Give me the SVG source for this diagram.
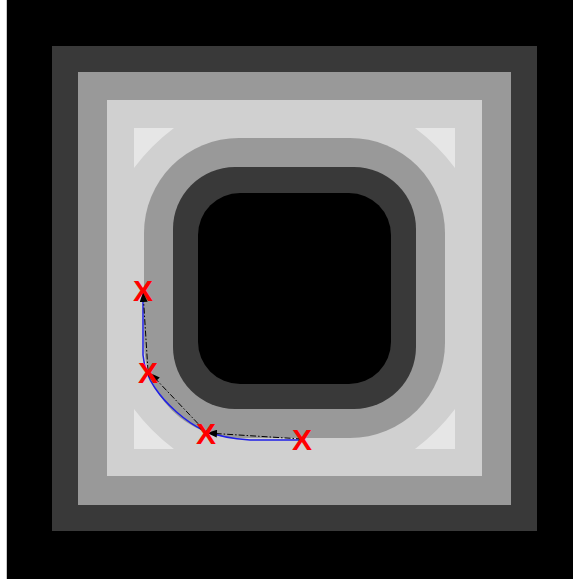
<svg xmlns="http://www.w3.org/2000/svg" width="573" height="579" viewBox="0 0 573 579">
  <style>
    .tri { fill: #e6e6e6; }
    .mark { font-family: "Liberation Sans", Arial, sans-serif; font-weight: bold; font-size: 30px; fill: #ff0000; text-anchor: middle; }
    .step { fill: none; stroke: #000; stroke-width: 1; stroke-dasharray: 6,2,1.5,2; marker-end: url(#arr); }
  </style>
  <defs>
    <marker id="arr" viewBox="0 0 10 8" refX="10" refY="4" markerWidth="10" markerHeight="8" markerUnits="userSpaceOnUse" orient="auto">
      <path d="M0,0 L10,4 L0,8 Z" fill="#000"/>
    </marker>
  </defs>
  <g id="background">
    <rect x="0" y="0" width="573" height="579" fill="#ffffff"/>
    <rect x="6" y="0" width="1" height="579" fill="#c8c8c8"/>
    <rect x="7" y="0" width="566" height="579" fill="#000000"/>
    <rect x="52" y="46" width="485" height="485" fill="#393939"/>
    <rect x="78" y="72" width="433" height="433" fill="#999999"/>
    <rect x="107" y="100" width="375" height="376" fill="#d0d0d0"/>
  </g>
  <g id="corners">
    <path class="tri" d="M134,128 L174,128 A200,200 0 0 0 134,168 Z"/>
    <path class="tri" d="M455,168 L455,128 L415,128 A200,200 0 0 1 455,168 Z"/>
    <path class="tri" d="M455,449 L415,449 A200,200 0 0 0 455,409 Z"/>
    <path class="tri" d="M134,449 L134,409 A200,200 0 0 0 174,449 Z"/>
  </g>
  <g id="rings">
    <rect x="144" y="138" width="301" height="300" rx="95" ry="95" fill="#999999"/>
    <rect x="173" y="167" width="243" height="242" rx="62" ry="62" fill="#393939"/>
    <rect x="198" y="193" width="193" height="191" rx="42" ry="42" fill="#000000"/>
  </g>
  <g id="trajectory">
    <path d="M143,293 L143,355 C144,366 148,378 155,388 C165,403 185,422 205,431 C220,437 235,439 250,440 L302,440" fill="none" stroke="#1f1fe6" stroke-width="1.5"/>
  </g>
  <g id="connectors">
    <line class="step" x1="302" y1="439" x2="207" y2="433"/>
    <line class="step" x1="206" y1="432" x2="150" y2="373"/>
    <line class="step" x1="148" y1="371" x2="143" y2="292"/>
  </g>
  <g id="markers">
    <text class="mark" x="143" y="301">X</text>
    <text class="mark" x="148" y="383">X</text>
    <text class="mark" x="206" y="444">X</text>
    <text class="mark" x="302" y="450">X</text>
  </g>
</svg>
